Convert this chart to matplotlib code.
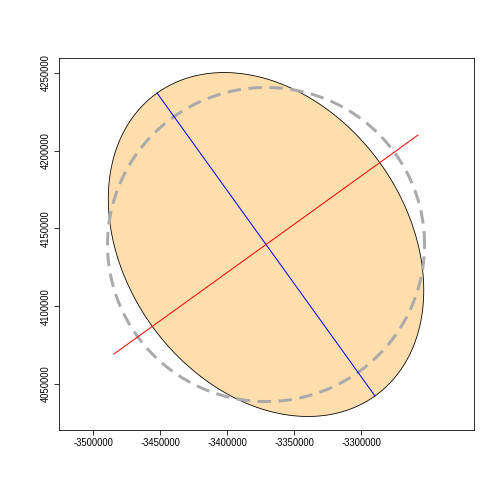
import numpy as np
import matplotlib
matplotlib.use("Agg")
import matplotlib.pyplot as plt

plt.rcParams["font.family"] = ["Liberation Sans", "DejaVu Sans"]

# ellipse centre and conjugate half-axes (data units)
center = (-3370900, 4139700)
major_half = (-81310, 97400)   # along blue line
minor_half = (-85100, -52400)  # along red line
circle_radii = (118300, 101000)
red_line_x = [-3484330, -3257460]
red_line_y = [4069300, 4210100]
x_ticks = [-3500000, -3450000, -3400000, -3350000, -3300000]
y_ticks = [4050000, 4100000, 4150000, 4200000, 4250000]

fig = plt.figure(figsize=(7, 7), dpi=72)
ax = fig.add_axes([59 / 504, 1 - 430 / 504, 415 / 504, 372 / 504])

t = np.linspace(0, 2 * np.pi, 400)
ex = center[0] + major_half[0] * np.cos(t) + minor_half[0] * np.sin(t)
ey = center[1] + major_half[1] * np.cos(t) + minor_half[1] * np.sin(t)
ax.fill(ex, ey, facecolor="navajowhite", edgecolor="black", linewidth=0.8)

cx = center[0] + circle_radii[0] * np.cos(t)
cy = center[1] + circle_radii[1] * np.sin(t)
ax.plot(cx, cy, color="#aaaaaa", linewidth=3, linestyle=(0, (4.5, 2.5)))

ax.plot([center[0] - major_half[0], center[0] + major_half[0]],
        [center[1] - major_half[1], center[1] + major_half[1]],
        color="blue", linewidth=1)
ax.plot(red_line_x, red_line_y, color="red", linewidth=1)

ax.set_xlim(-3525400, -3215700)
ax.set_ylim(4020400, 4259650)
ax.set_xticks(x_ticks)
ax.set_xticklabels([str(v) for v in x_ticks])
ax.set_yticks(y_ticks)
ax.set_yticklabels([str(v) for v in y_ticks], rotation=90, va="center")
ax.tick_params(labelsize=9.5, length=5)
fig.savefig("out.png", dpi=72)
